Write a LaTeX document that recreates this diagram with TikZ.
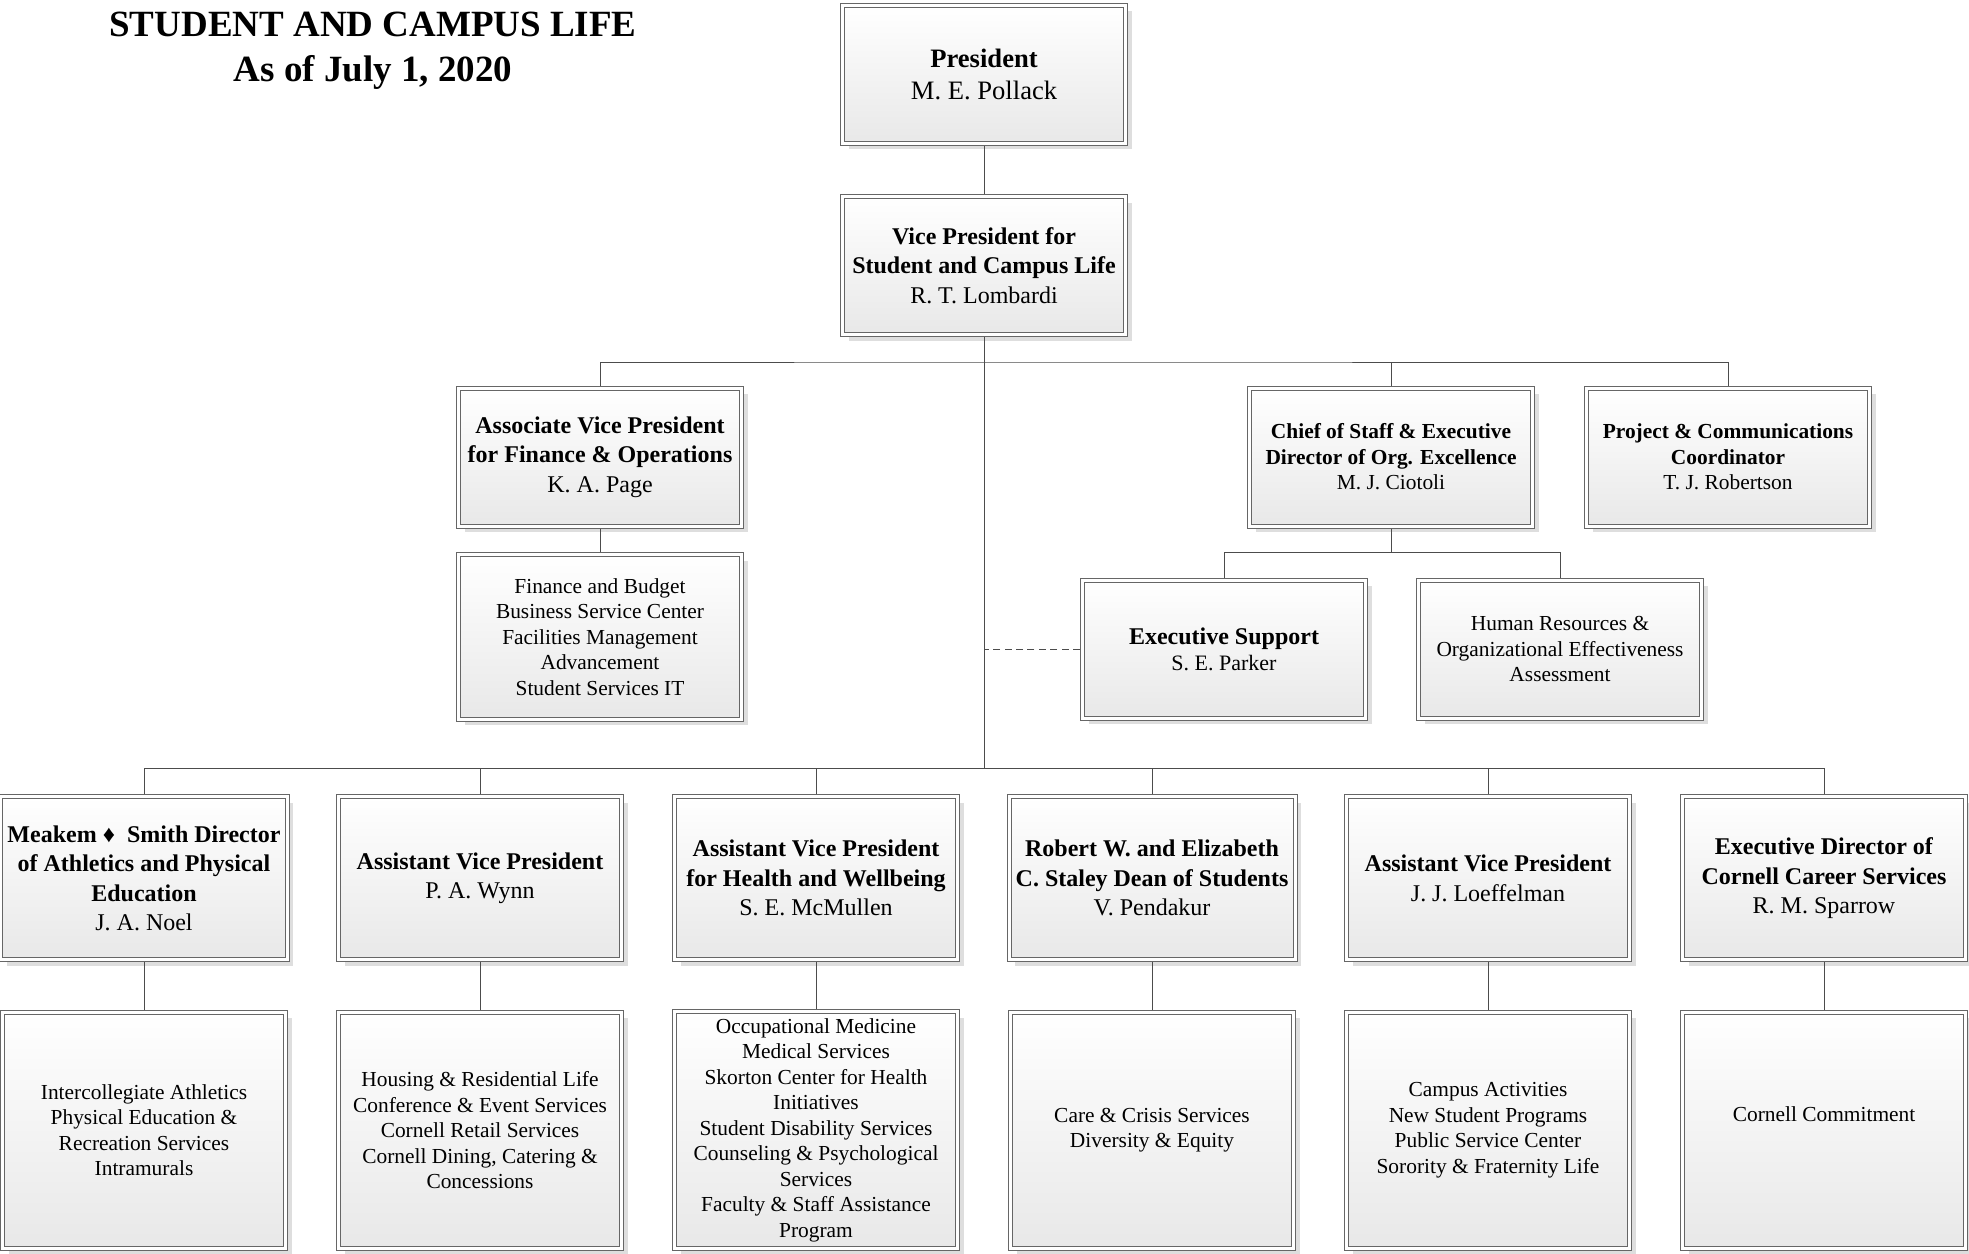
\documentclass[tikz,border=0pt]{standalone}
\usepackage{fontspec}
\setmainfont{Liberation Serif}
\usetikzlibrary{shadows}
\tikzstyle{office} = [rectangle,
minimum width=141.5pt,
minimum height=69pt,
align=center,
draw=black!60,
line width=0.5pt,
double=white,
double distance=1.5pt,
outer sep=1.25pt,
top color=white,
bottom color=black!9,
drop shadow={shadow xshift=3pt, shadow yshift=-3pt, fill=black!13, opacity=1},
font=\fontsize{12}{14.75}\selectfont]
\tikzstyle{team} = [office,
font=\fontsize{10.7}{12.75}\selectfont]
\tikzstyle{orgline} = [draw=black!70, line width=0.5pt]
\tikzstyle{dashline} = [orgline, dash pattern=on 3.5pt off 2.2pt]

\begin{document}
\begin{tikzpicture}[x=0.5pt, y=-0.5pt, node distance=95.7pt]

\useasboundingbox (0,0) rectangle (1969,1253);

\node (title) [align=center, font=\fontsize{18.5}{22.6}\selectfont\bfseries] at (373,51) {STUDENT AND CAMPUS LIFE\\As of July 1, 2020};

\node (pres) [office, font=\fontsize{13.3}{16.3}\selectfont] at (984,74.3) {\textbf{President}\\M. E. Pollack};

\node (vp) [office, below of=pres] {\textbf{Vice President for}\\\textbf{Student and Campus Life}\\R. T. Lombardi};

\node (avp) [office, below of=vp, xshift=-192pt] {\textbf{Associate Vice President}\\\textbf{for Finance \& Operations}\\K. A. Page};

\node (cos) [team, below of=vp, xshift=203.5pt] {\textbf{Chief of Staff \& Executive}\\\textbf{Director of Org. Excellence}\\M. J. Ciotoli};

\node (proj) [team, below of=vp, xshift=372pt] {\textbf{Project \& Communications}\\\textbf{Coordinator}\\T. J. Robertson};

\node (fin) [team, below of=avp, node distance=90pt, minimum height=82.25pt] {Finance and Budget\\Business Service Center\\Facilities Management\\Advancement\\Student Services IT};

\node (exs) [office, below of=cos, node distance=96pt, xshift=-83.5pt, font=\fontsize{11}{13.2}\selectfont] {{\fontsize{12}{13.2}\selectfont\bfseries Executive Support}\\S. E. Parker};

\node (hr) [team, below of=cos, node distance=96pt, xshift=84.5pt] {Human Resources \&\\Organizational Effectiveness\\Assessment};

% directors
\node (ath) [office, below of=vp, node distance=306.25pt, xshift=-420pt, minimum height=81.5pt] {\textbf{Meakem ♦~ Smith Director}\\\textbf{of Athletics and Physical}\\\textbf{Education}\\J. A. Noel};

\node (wynn) [office, right of=ath, node distance=168pt, minimum height=81.5pt] {\textbf{Assistant Vice President}\\P. A. Wynn};

\node (hlth) [office, right of=wynn, node distance=168pt, minimum height=81.5pt] {\textbf{Assistant Vice President}\\\textbf{for Health and Wellbeing}\\S. E. McMullen};

\node (dean) [office, right of=hlth, node distance=168pt, minimum height=81.5pt] {\textbf{Robert W. and Elizabeth}\\\textbf{C. Staley Dean of Students}\\V. Pendakur};

\node (loef) [office, right of=dean, node distance=168pt, minimum height=81.5pt] {\textbf{Assistant Vice President}\\J. J. Loeffelman};

\node (car) [office, right of=loef, node distance=168pt, minimum height=81.5pt] {\textbf{Executive Director of}\\\textbf{Cornell Career Services}\\R. M. Sparrow};

% units
\node (athu) [team, below of=ath, node distance=126pt, minimum height=118pt] {Intercollegiate Athletics\\Physical Education \&\\Recreation Services\\Intramurals};

\node (wynnu) [team, below of=wynn, node distance=126pt, minimum height=118pt] {Housing \& Residential Life\\Conference \& Event Services\\Cornell Retail Services\\Cornell Dining, Catering \&\\Concessions};

\node (hlthu) [team, below of=hlth, node distance=126pt, minimum height=118pt] {Occupational Medicine\\Medical Services\\Skorton Center for Health\\Initiatives\\Student Disability Services\\Counseling \& Psychological\\Services\\Faculty \& Staff Assistance\\Program};

\node (deanu) [team, below of=dean, node distance=126pt, minimum height=118pt] {Care \& Crisis Services\\Diversity \& Equity};

\node (loefu) [team, below of=loef, node distance=126pt, minimum height=118pt] {Campus Activities\\New Student Programs\\Public Service Center\\Sorority \& Fraternity Life};

\node (caru) [team, below of=car, node distance=126pt, minimum height=118pt, text depth=16pt] {Cornell Commitment};

\coordinate (top bus) at (984,362);
\coordinate (cos bus) at (1391,552.5);
\coordinate (low bus) at (984,768.5);

\draw [orgline] (pres) -- (vp);
\draw [orgline] (vp.south) -- (low bus);
\draw [orgline] (avp.north) |- (top bus) -| (proj.north);
\draw [orgline] (cos.north) -- (cos.north |- top bus);
\draw [orgline] (avp) -- (fin);
\draw [orgline] (cos.south) -- (cos bus);
\draw [orgline] (exs.north) |- (cos bus) -| (hr.north);
\draw [dashline] (exs.west) -- (exs.west -| low bus);

\draw [orgline] (ath.north) |- (low bus) -| (car.north);
\draw [orgline] (wynn.north) -- (wynn.north |- low bus);
\draw [orgline] (hlth.north) -- (hlth.north |- low bus);
\draw [orgline] (dean.north) -- (dean.north |- low bus);
\draw [orgline] (loef.north) -- (loef.north |- low bus);

\draw [orgline] (ath) -- (athu);
\draw [orgline] (wynn) -- (wynnu);
\draw [orgline] (hlth) -- (hlthu);
\draw [orgline] (dean) -- (deanu);
\draw [orgline] (loef) -- (loefu);
\draw [orgline] (car) -- (caru);

\end{tikzpicture}
\end{document}
